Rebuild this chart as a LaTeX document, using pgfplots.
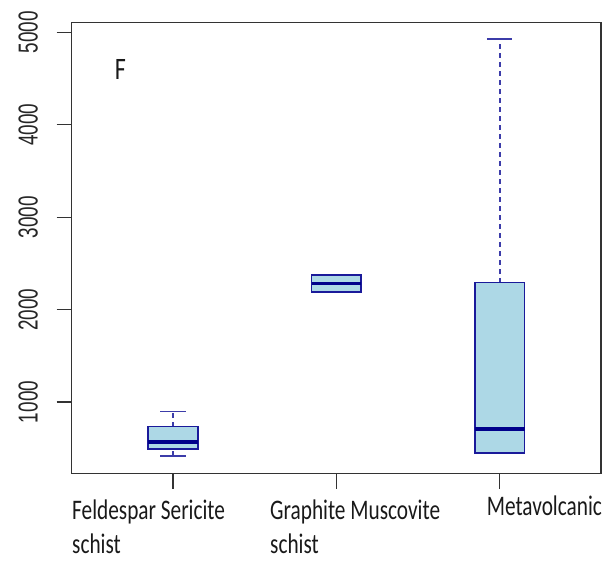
\documentclass[border=0pt]{standalone}
\usepackage{fontspec}
\setmainfont{Carlito}
\newfontfamily\tickfont{Liberation Sans}
\usepackage{pgfplots}
\pgfplotsset{compat=1.18}

\definecolor{boxfill}{HTML}{ADD8E6}
\definecolor{boxline}{HTML}{1A1A9A}
\definecolor{medline}{HTML}{00008B}
\definecolor{frame}{HTML}{333333}

\newcommand{\lab}[1]{\scalebox{1}[1.33]{\fontsize{21.3}{24}\selectfont #1}}
\newcommand{\tl}[1]{\scalebox{1}[1.45]{#1}}

\pgfplotsset{
  boxbody/.style={fill=boxfill, draw=boxline, line width=1.6pt},
  boxmed/.style={draw=medline, line width=3.6pt},
  boxwhisk/.style={draw=boxline!85, line width=1.6pt, dash pattern=on 5pt off 4pt},
  boxcap/.style={draw=boxline!85, line width=1.6pt},
}

\begin{document}
\begin{tikzpicture}
\begin{axis}[
  name=ax,
  scale only axis,
  width=529.3pt, height=451pt,
  xmin=0.38, xmax=3.62,
  ymin=224, ymax=5104,
  line width=1.4pt,
  axis line style={frame, line width=1.4pt},
  xtick={1,2,3}, xticklabels={,,},
  ytick={1000,2000,3000,4000,5000},
  yticklabels={\tl{1000},\tl{2000},\tl{3000},\tl{4000},\tl{5000}},
  tick align=outside,
  major tick length=15pt,
  tick style={frame, line width=1.2pt},
  xtick pos=bottom, ytick pos=left,
  yticklabel style={rotate=90, anchor=south, font=\tickfont\fontsize{18.9}{22}\selectfont, text=black!85, inner sep=0pt, yshift=18pt},
]
% Feldespar Sericite schist: whiskers 416/895, quartiles 491/733, median 567
\addplot[boxwhisk] coordinates {(1,733) (1,895)};
\addplot[boxwhisk] coordinates {(1,416) (1,491)};
\addplot[boxcap] coordinates {(0.922,895) (1.078,895)};
\addplot[boxcap] coordinates {(0.922,416) (1.078,416)};
\addplot[boxbody] coordinates {(0.848,491) (1.152,491) (1.152,733) (0.848,733)} -- cycle;
\addplot[boxmed] coordinates {(0.848,567) (1.152,567)};

% Graphite Muscovite schist: quartiles 2190/2371, median 2280
\addplot[boxbody] coordinates {(1.848,2190) (2.152,2190) (2.152,2371) (1.848,2371)} -- cycle;
\addplot[boxmed] coordinates {(1.848,2280) (2.152,2280)};

% Metavolcanic: whiskers 445/4929, quartiles 445/2291, median 705
\addplot[boxwhisk] coordinates {(3,2291) (3,4929)};
\addplot[boxcap] coordinates {(2.922,4929) (3.078,4929)};
\addplot[boxbody] coordinates {(2.848,445) (3.152,445) (3.152,2291) (2.848,2291)} -- cycle;
\addplot[boxmed] coordinates {(2.848,705) (3.152,705)};
\end{axis}

% panel letter
\node[anchor=base west, inner sep=0pt, text=black!90]
  at ([xshift=43pt, yshift=-56.6pt]ax.north west)
  {\scalebox{1}[1.3]{\fontsize{24}{28}\selectfont F}};

% category names
\begin{scope}[every node/.style={anchor=base west, inner sep=0pt, text=black!90}]
\node at ([xshift=0.3pt, yshift=-45.3pt]ax.south west) {\lab{Feldespar Sericite}};
\node at ([xshift=0.3pt, yshift=-79.6pt]ax.south west) {\lab{schist}};
\node at ([xshift=198.3pt, yshift=-45.3pt]ax.south west) {\lab{Graphite Muscovite}};
\node at ([xshift=198.3pt, yshift=-79.6pt]ax.south west) {\lab{schist}};
\node at ([xshift=415pt, yshift=-41.3pt]ax.south west) {\lab{Metavolcanic}};
\end{scope}

\pgfresetboundingbox
\path ([xshift=-71.7pt, yshift=-88.3pt]ax.south west) rectangle ([xshift=9pt, yshift=22.7pt]ax.north east);
\end{tikzpicture}
\end{document}
